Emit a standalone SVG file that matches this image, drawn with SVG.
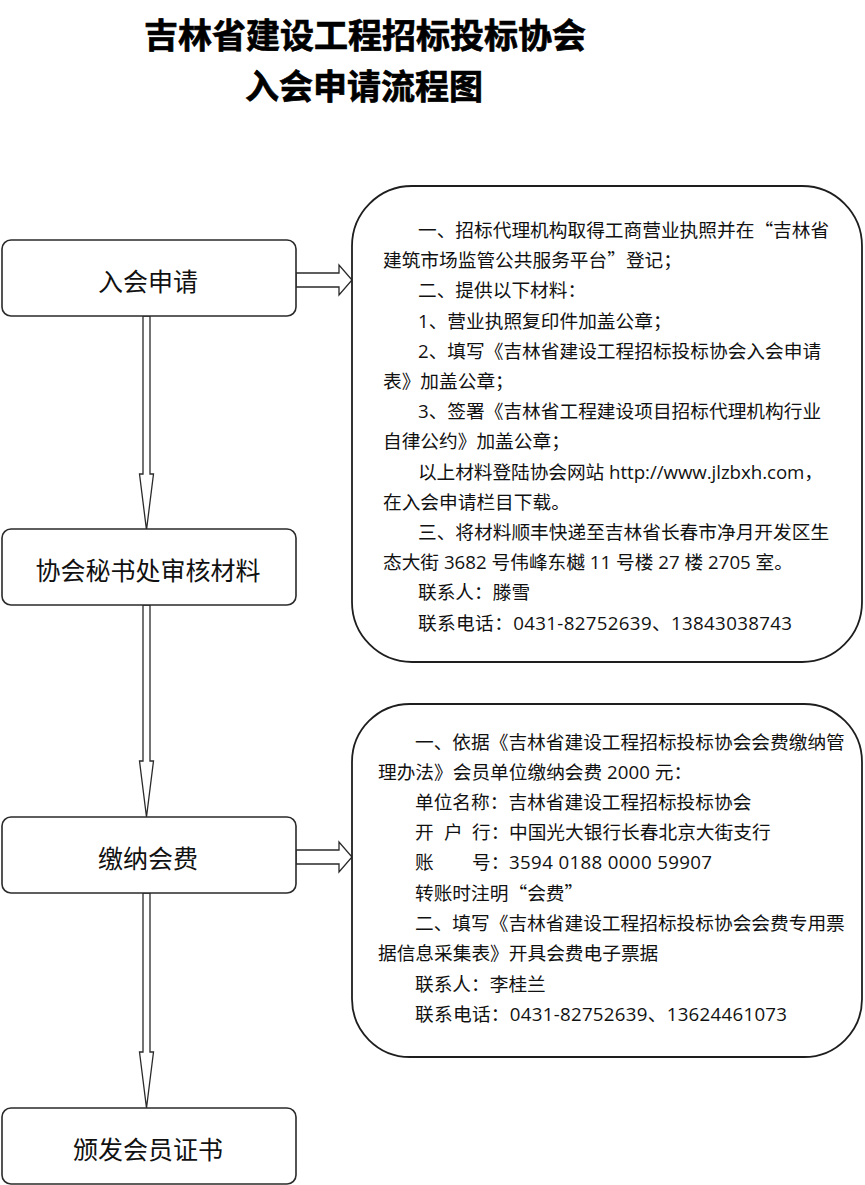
<svg xmlns="http://www.w3.org/2000/svg" width="865" height="1185" viewBox="0 0 865 1185">
<style>
.title{font-family:"Noto Sans CJK SC","Noto Sans",sans-serif;font-weight:700;font-size:34px;fill:#000;stroke:#000;stroke-width:0.7;text-anchor:middle}
.box{fill:#fff;stroke:#2a2a2a;stroke-width:1.6}
.big{fill:#fff;stroke:#1e1e1e;stroke-width:1.8}
.lbl{font-family:"Noto Sans CJK SC","Noto Sans",sans-serif;font-size:25px;fill:#111;text-anchor:middle}
.t{font-family:"Open Sans","Noto Sans CJK SC",sans-serif;font-size:18.7px;fill:#111}
.cjk{font-family:"Noto Sans CJK SC",sans-serif}
.arr{fill:#fff;stroke:#2a2a2a;stroke-width:1.3;stroke-linejoin:miter}
</style>
<rect width="865" height="1185" fill="#fff"/>
<g id="title">
<text class="title" x="365" y="48">吉林省建设工程招标投标协会</text>
<text class="title" x="364" y="99">入会申请流程图</text>
</g>
<g id="connectors">
<polygon class="arr" points="143,316 150,316 150,474 153.5,474 146.5,530 139.5,474 143,474"/>
<polygon class="arr" points="143,605 150,605 150,761 153.5,761 146.5,817 139.5,761 143,761"/>
<polygon class="arr" points="143,893 150,893 150,1052 153.5,1052 146.5,1108 139.5,1052 143,1052"/>
<polygon class="arr" points="296,273 339,273 339,265 352,280 339,295 339,287 296,287"/>
<polygon class="arr" points="296,850 339,850 339,842 352,857 339,872 339,864 296,864"/>
</g>
<g id="node-apply">
<rect class="box" x="2" y="240" width="294" height="76" rx="9"/>
<text class="lbl" x="148" y="291">入会申请</text>
</g>
<g id="node-review">
<rect class="box" x="2" y="529" width="294" height="76" rx="9"/>
<text class="lbl" x="148" y="580">协会秘书处审核材料</text>
</g>
<g id="node-fee">
<rect class="box" x="2" y="817" width="294" height="76" rx="9"/>
<text class="lbl" x="148" y="868">缴纳会费</text>
</g>
<g id="node-cert">
<rect class="box" x="2" y="1108" width="294" height="76" rx="9"/>
<text class="lbl" x="148" y="1159">颁发会员证书</text>
</g>
<g id="note-apply">
<rect class="big" x="352" y="186" width="510" height="476" rx="60"/>
<text class="t" x="418" y="237">一、招标代理机构取得工商营业执照并在<tspan class="cjk">“</tspan>吉林省</text>
<text class="t" x="383" y="267.2">建筑市场监管公共服务平台<tspan class="cjk">”</tspan>登记；</text>
<text class="t" x="418" y="297.4">二、提供以下材料：</text>
<text class="t" x="418" y="327.6">1、营业执照复印件加盖公章；</text>
<text class="t" x="418" y="357.8">2、填写《吉林省建设工程招标投标协会入会申请</text>
<text class="t" x="383" y="388">表》加盖公章；</text>
<text class="t" x="418" y="418.2">3、签署《吉林省工程建设项目招标代理机构行业</text>
<text class="t" x="383" y="448.4">自律公约》加盖公章；</text>
<text class="t" x="418" y="478.6" textLength="405" lengthAdjust="spacing">以上材料登陆协会网站 http://www.jlzbxh.com，</text>
<text class="t" x="383" y="508.8">在入会申请栏目下载。</text>
<text class="t" x="418" y="539">三、将材料顺丰快递至吉林省长春市净月开发区生</text>
<text class="t" x="383" y="569.2">态大街 3682 号伟峰东樾 11 号楼 27 楼 2705 室。</text>
<text class="t" x="418" y="599.4">联系人：滕雪</text>
<text class="t" x="418" y="629.6" textLength="374" lengthAdjust="spacing">联系电话：0431-82752639、13843038743</text>
</g>
<g id="note-fee">
<rect class="big" x="352" y="704" width="510" height="353" rx="58"/>
<text class="t" x="415" y="749">一、依据《吉林省建设工程招标投标协会会费缴纳管</text>
<text class="t" x="378" y="779.1">理办法》会员单位缴纳会费 2000 元：</text>
<text class="t" x="415" y="809.2">单位名称：吉林省建设工程招标投标协会</text>
<text class="t" y="839.3"><tspan x="415">开</tspan><tspan x="444">户</tspan><tspan x="472">行：</tspan><tspan x="509">中国光大银行长春北京大街支行</tspan></text>
<text class="t" y="869.4"><tspan x="415">账</tspan><tspan x="472">号：</tspan><tspan x="509" textLength="203" lengthAdjust="spacing">3594 0188 0000 59907</tspan></text>
<text class="t" x="415" y="899.5">转账时注明<tspan class="cjk">“</tspan>会费<tspan class="cjk">”</tspan></text>
<text class="t" x="415" y="929.6">二、填写《吉林省建设工程招标投标协会会费专用票</text>
<text class="t" x="378" y="959.7">据信息采集表》开具会费电子票据</text>
<text class="t" x="415" y="991">联系人：李桂兰</text>
<text class="t" x="415" y="1020.5" textLength="372" lengthAdjust="spacing">联系电话：0431-82752639、13624461073</text>
</g>
</svg>
